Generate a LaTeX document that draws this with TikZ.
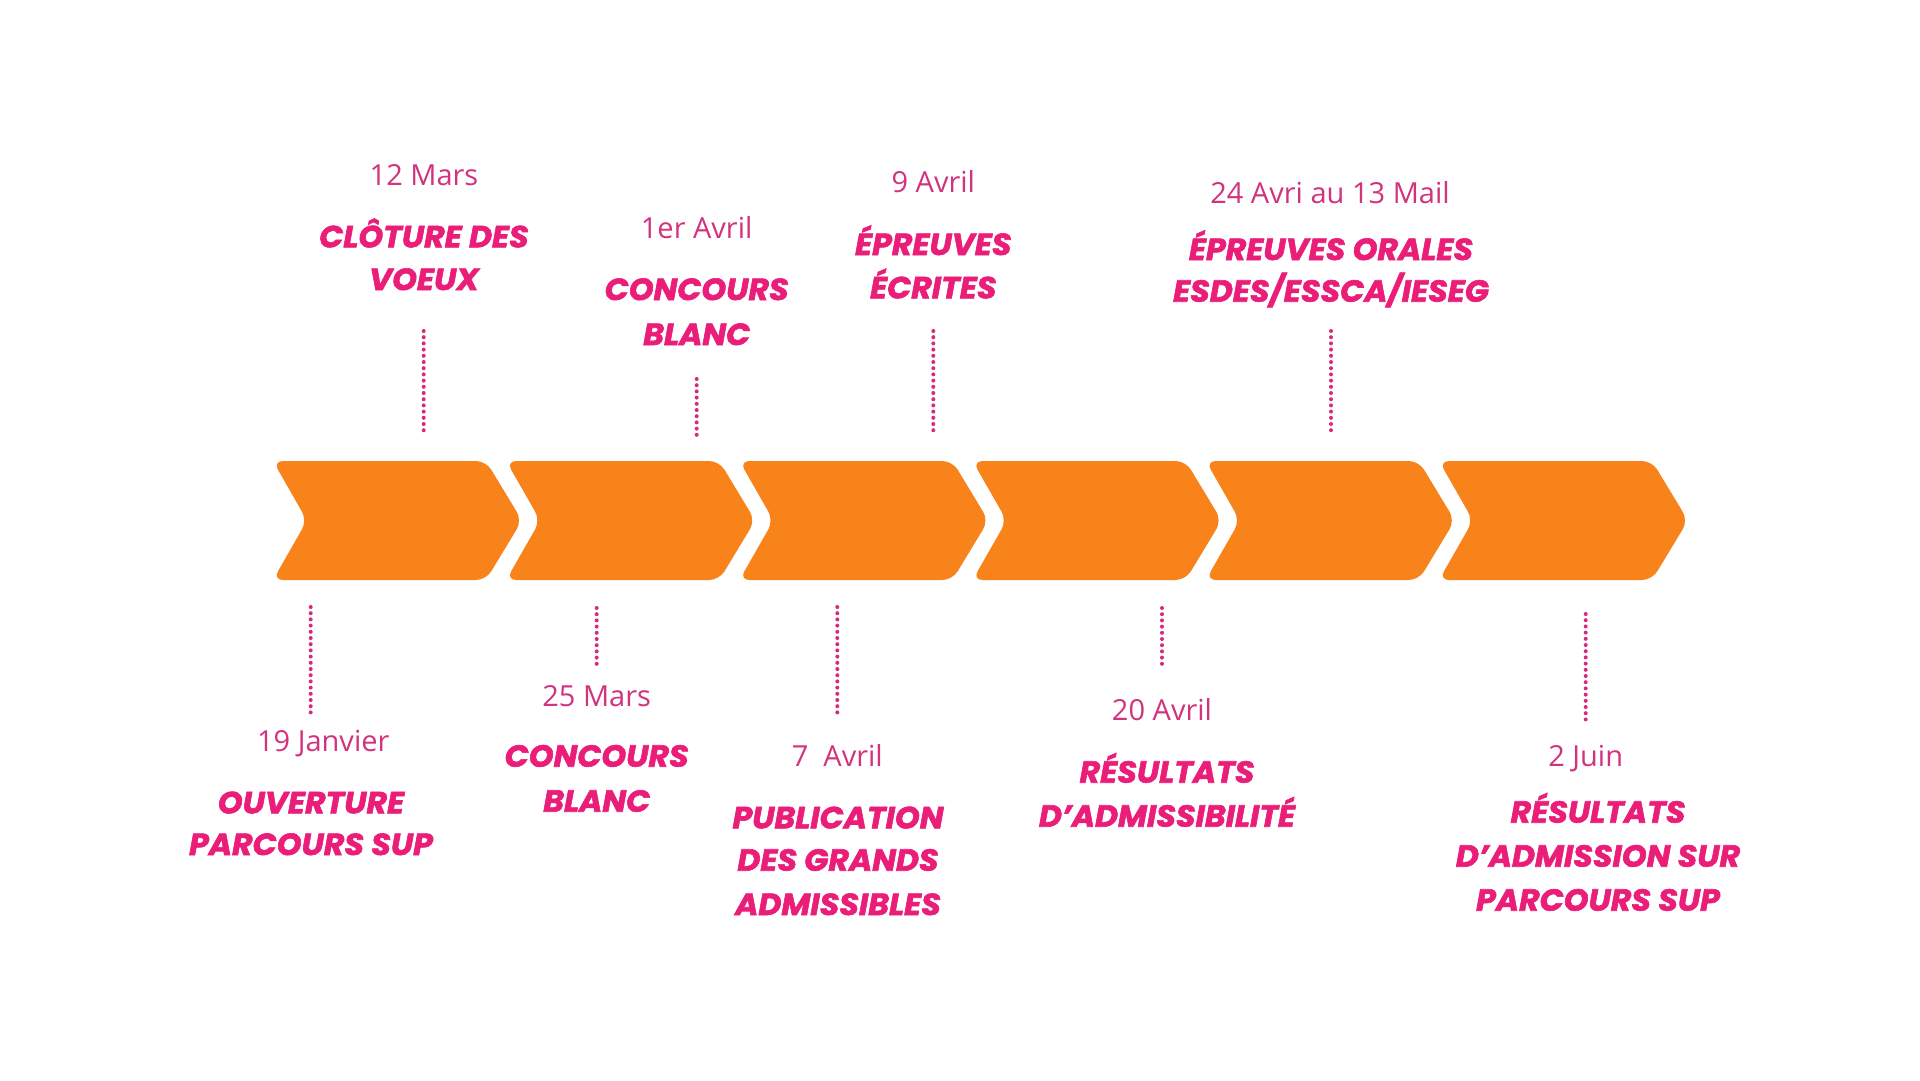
\documentclass[tikz,border=0pt]{standalone}
\usepackage{fontspec}
\newfontfamily\datefont{Open Sans}
\newfontfamily\titlefont{Poppins}[BoldItalicFeatures={FakeBold=2,FakeStretch=1.035}]
\definecolor{chevc}{HTML}{F8831A}
\definecolor{titlec}{HTML}{EA1E78}
\definecolor{datec}{HTML}{D2337E}
\definecolor{dotc}{HTML}{D82A7C}
\tikzset{
  chevron/.style={fill=chevc, rounded corners=10pt},
  datet/.style={anchor=base, inner sep=0pt, text=datec, font=\datefont\fontsize{29}{34}\selectfont},
  titlet/.style={anchor=base, inner sep=0pt, text=titlec, font=\titlefont\bfseries\itshape\fontsize{30.5}{36}\selectfont},
  dots/.style={draw=dotc, line width=4pt, line cap=round, dash pattern=on 0pt off 6.2pt}
}
\begin{document}
\begin{tikzpicture}[x=1pt,y=-1pt]
\fill[white] (0,0) rectangle (1920,1080);
\useasboundingbox (0,0) rectangle (1920,1080);
% chevrons
\foreach \i in {0,...,5}{
  \pgfmathsetmacro\L{273+233.2*\i}
  \fill[chevron] (\L+100,461) -- (\L+213,461) -- (\L+249,520.5) -- (\L+213,580)
     -- (\L,580) -- (\L+34,520.5) -- (\L,461) -- cycle;
}
% ---- top items
\node[datet]  (d1)  at (424,185)   {12 Mars};
\node[titlet] (t1a) at (424,247.3) {CLÔTURE DES};
\node[titlet] (t1b) at (424,290)   {VOEUX};
\coordinate (p1a) at (423.7,331); \coordinate (p1b) at (423.7,436);
\draw[dots] (p1a) -- (p1b);

\node[datet]  (d2)  at (696.7,238.3) {1er Avril};
\node[titlet] (t2a) at (696.7,300)   {CONCOURS};
\node[titlet] (t2b) at (696.7,345)   {BLANC};
\coordinate (p2a) at (696.7,379); \coordinate (p2b) at (696.7,436);
\draw[dots] (p2a) -- (p2b);

\node[datet]  (d3)  at (933.3,192.3) {9 Avril};
\node[titlet] (t3a) at (933.3,255)   {ÉPREUVES};
\node[titlet] (t3b) at (933.3,298.3) {ÉCRITES};
\coordinate (p3a) at (933.3,331); \coordinate (p3b) at (933.3,436);
\draw[dots] (p3a) -- (p3b);

\node[datet]  (d4)  at (1330,203.3) {24 Avri au 13 Mail};
\node[titlet] (t4a) at (1331,260)   {ÉPREUVES ORALES};
\node[titlet] (t4b) at (1331,301.7) {ESDES/ESSCA/IESEG};
\coordinate (p4a) at (1331,331); \coordinate (p4b) at (1331,436);
\draw[dots] (p4a) -- (p4b);

% ---- bottom items
\coordinate (p5a) at (310.7,607); \coordinate (p5b) at (310.7,713);
\draw[dots] (p5a) -- (p5b);
\node[datet]  (d5)  at (323.3,751.7) {19 Janvier};
\node[titlet] (t5a) at (311,813.3)   {OUVERTURE};
\node[titlet] (t5b) at (311,855)     {PARCOURS SUP};

\coordinate (p6a) at (596.7,608); \coordinate (p6b) at (596.7,666);
\draw[dots] (p6a) -- (p6b);
\node[datet]  (d6)  at (596.7,706)   {25 Mars};
\node[titlet] (t6a) at (596.7,766.7) {CONCOURS};
\node[titlet] (t6b) at (596.7,811.7) {BLANC};

\coordinate (p7a) at (837.3,607); \coordinate (p7b) at (837.3,713);
\draw[dots] (p7a) -- (p7b);
\node[datet]  (d7)  at (837.3,766.7) {7\ \ Avril};
\node[titlet] (t7a) at (838,828.3)   {PUBLICATION};
\node[titlet] (t7b) at (838,870.7)   {DES GRANDS};
\node[titlet] (t7c) at (838,915)     {ADMISSIBLES};

\coordinate (p8a) at (1162,608); \coordinate (p8b) at (1162,668);
\draw[dots] (p8a) -- (p8b);
\node[datet]  (d8)  at (1162,720.7) {20 Avril};
\node[titlet] (t8a) at (1167,782.7) {RÉSULTATS};
\node[titlet] (t8b) at (1167,826.7) {D’ADMISSIBILITÉ};

\coordinate (p9a) at (1585.7,614); \coordinate (p9b) at (1585.7,721);
\draw[dots] (p9a) -- (p9b);
\node[datet]  (d9)  at (1585.7,766.7) {2 Juin};
\node[titlet] (t9a) at (1598,822.7) {RÉSULTATS};
\node[titlet] (t9b) at (1598,866.7) {D’ADMISSION SUR};
\node[titlet] (t9c) at (1598,910.7) {PARCOURS SUP};
\end{tikzpicture}
\end{document}
